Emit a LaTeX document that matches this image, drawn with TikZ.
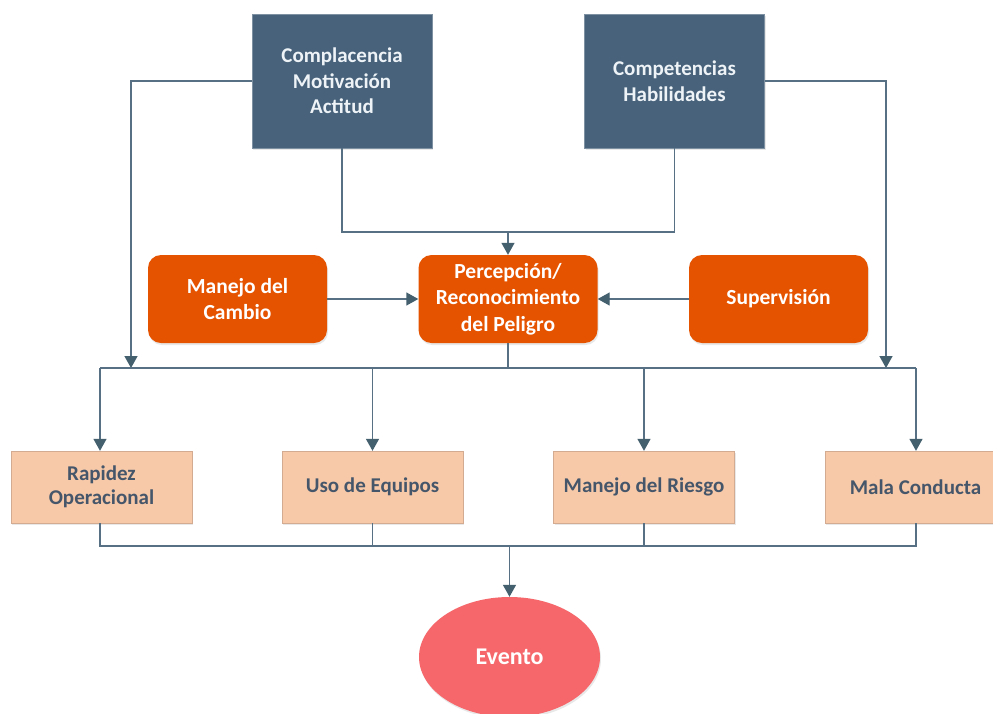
\documentclass[tikz,border=0pt]{standalone}
\usepackage{fontspec}
\setmainfont{Carlito}
\usetikzlibrary{arrows.meta,shapes.geometric,shadows}

\definecolor{slate}{HTML}{47627A}
\definecolor{slatetext}{HTML}{EEF3F8}
\definecolor{burnt}{HTML}{E55300}
\definecolor{peach}{HTML}{F7C9A9}
\definecolor{peachtext}{HTML}{46566A}
\definecolor{coral}{HTML}{F5676B}
\definecolor{wire}{HTML}{587083}
\definecolor{tipcol}{HTML}{44606F}

\tikzset{
  shade/.style={drop shadow={opacity=0.18,shadow xshift=1pt,shadow yshift=-2pt}},
  topbox/.style={rectangle,fill=slate,draw=slate!70!white,line width=0.6pt,
    minimum width=180pt,minimum height=134pt,text=slatetext,align=center,
    font=\bfseries\fontsize{21}{25.5}\selectfont,shade},
  midbox/.style={rectangle,rounded corners=13pt,fill=burnt,
    minimum width=179pt,minimum height=88pt,text=white,align=center,
    font=\bfseries\fontsize{21.5}{26.5}\selectfont,shade},
  lowbox/.style={rectangle,fill=peach,draw=peach!85!black,line width=0.4pt,
    minimum width=181pt,minimum height=72pt,text=peachtext,align=center,
    font=\bfseries\fontsize{21}{24}\selectfont,shade},
  eventnode/.style={ellipse,fill=coral,minimum width=181pt,minimum height=120pt,
    text=white,font=\bfseries\fontsize{24}{28}\selectfont,shade},
  wireline/.style={draw=wire,line width=1.4pt},
  arr/.style={wireline,-{Triangle[width=13pt,length=12pt,color=tipcol]}},
}

\begin{document}
\begin{tikzpicture}[x=1pt,y=-1pt]
  \clip (0,0) rectangle (993,713);
  \fill[white] (0,0) rectangle (993,713);

  % upper factors
  \node[topbox] (comp)   at (342,81)   {Complacencia\\Motivación\\Actitud};
  \node[topbox] (compet) at (674.5,81) {Competencias\\Habilidades};

  % central row
  \node[midbox] (mdc)  at (237.5,299) {Manejo del\\Cambio};
  \node[midbox] (perc) at (508,299)   {Percepción/\\Reconocimiento\\del Peligro};
  \node[midbox] (sup)  at (778.5,299) {Supervisión};

  % lower row
  \node[lowbox] (rap)  at (101.5,487) {Rapidez\\Operacional};
  \node[lowbox] (uso)  at (372.5,487) {Uso de Equipos};
  \node[lowbox] (mdr)  at (644,487)   {Manejo del Riesgo};
  \node[lowbox] (mala) at (915.5,487) {Mala Conducta};

  % outcome
  \node[eventnode] (ev) at (509.5,657) {Evento};

  % routing points
  \coordinate (jn)   at (508,232);
  \coordinate (busL) at (131,368);
  \coordinate (busR) at (886,368);
  \coordinate (busM) at (508,368);
  \coordinate (busA) at (100,368);
  \coordinate (busB) at (916,368);
  \coordinate (lowA) at (100,546);
  \coordinate (lowB) at (916,546);
  \coordinate (lowM) at (509.5,546);

  % upper connectors
  \draw[wireline] (comp.south) |- (jn);
  \draw[wireline] (compet.south) |- (jn);
  \draw[arr] (jn) -- (perc.north);
  \draw[arr] (comp.west) -| (busL);
  \draw[arr] (compet.east) -| (busR);

  % side inputs
  \draw[arr] (mdc.east) -- (perc.west);
  \draw[arr] (sup.west) -- (perc.east);

  % distribution bus
  \draw[wireline] (perc.south) -- (busM);
  \draw[wireline] (busA) -- (busB);
  \draw[arr] (busA) -- (busA |- rap.north);
  \draw[arr] (uso.north |- busA) -- (uso.north);
  \draw[arr] (mdr.north |- busA) -- (mdr.north);
  \draw[arr] (busB) -- (busB |- mala.north);

  % collection bus
  \draw[wireline] (lowA |- rap.south) -- (lowA) -- (lowB) -- (lowB |- mala.south);
  \draw[wireline] (uso.south) -- (uso.south |- lowA);
  \draw[wireline] (mdr.south) -- (mdr.south |- lowA);
  \draw[arr] (lowM) -- (ev.north);
\end{tikzpicture}
\end{document}
